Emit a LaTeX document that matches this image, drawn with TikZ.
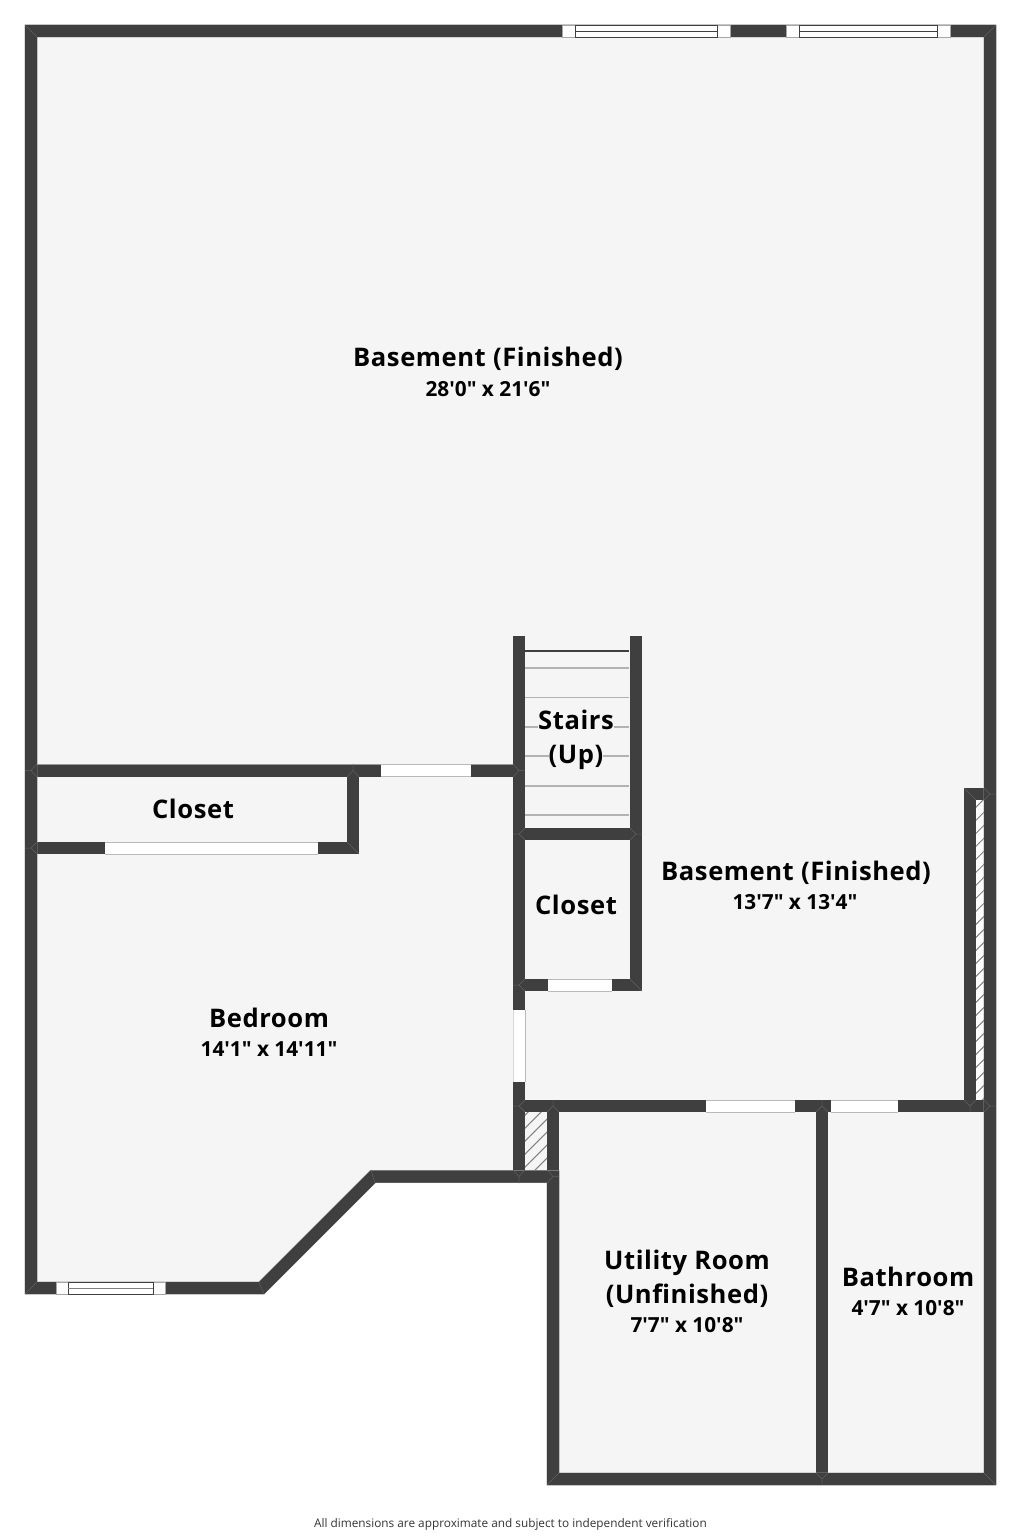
\documentclass[tikz,border=0pt]{standalone}
\usepackage{fontspec}
\usetikzlibrary{patterns.meta}
\newfontfamily\roomFont[LetterSpace=2.2]{Open Sans}
\newfontfamily\sizeFont{Open Sans}
\definecolor{wallColor}{HTML}{3F3F3F}
\definecolor{floorColor}{HTML}{F5F5F5}

\begin{document}
\begin{tikzpicture}[x = 1pt, y = -1pt]
	\tikzstyle{floorStyle}=[fill = floorColor]
	\tikzstyle{wallStyle}=[draw = wallColor, line width = 12pt, miter limit = 10, preaction = {draw = gray!80, line width = 12.8pt}]
	\tikzstyle{jointStyle}=[draw = gray!75!black, line width = 0.5pt]
	\tikzstyle{doorStyle}=[fill = white]
	\tikzstyle{doorEdgeStyle}=[draw = gray!55, line width = 1pt]
	\tikzstyle{paneStyle}=[fill = white, draw = black!75, line width = 1pt]
	\tikzstyle{sashStyle}=[fill = white, draw = gray!70, line width = 0.8pt]
	\tikzstyle{treadStyle}=[draw = gray!60, line width = 1.2pt]
	\tikzstyle{hatchStyle}=[pattern = {Lines[angle = 45, distance = 9.2pt, line width = 1pt]}, pattern color = gray]
	\tikzstyle{nameStyle}=[font = \roomFont\bfseries\fontsize{25.6}{25.6}\selectfont, inner sep = 0pt, text height = 18pt, text depth = 5pt]
	\tikzstyle{sizeStyle}=[font = \sizeFont\bfseries\fontsize{20.8}{20.8}\selectfont, inner sep = 0pt, text height = 15pt, text depth = 4pt]
	\useasboundingbox (0,0) rectangle (1021,1536);
	\fill[floorStyle] (25,25) -- (996,25) -- (996,1485) -- (547,1485) -- (547,1183) -- (375,1183) -- (264,1294) -- (25,1294) -- cycle;
	\fill[white] (976,800) rectangle (984,1100);
	\fill[hatchStyle] (976,800) rectangle (984,1100);
	\fill[hatchStyle] (525,1112) rectangle (547,1170);
	\draw[treadStyle] (525,668) -- (629,668);
	\draw[treadStyle] (525,697.5) -- (629,697.5);
	\draw[treadStyle] (525,727) -- (629,727);
	\draw[treadStyle] (525,756) -- (629,756);
	\draw[treadStyle] (525,786) -- (629,786);
	\draw[treadStyle] (525,815) -- (629,815);
	\draw[draw = wallColor, line width = 2pt] (525,651) -- (629,651);
	\draw[wallStyle] (31,770.5) -- (519,770.5);
	\draw[wallStyle] (31,848) -- (353,848) -- (353,770.5);
	\draw[wallStyle] (519,636) -- (519,1176.5);
	\draw[wallStyle] (636,636) -- (636,985) -- (519,985);
	\draw[wallStyle] (519,834) -- (636,834);
	\draw[wallStyle] (519,1106) -- (990,1106);
	\draw[wallStyle] (553,1106) -- (553,1176.5);
	\draw[wallStyle] (822,1106) -- (822,1479);
	\draw[wallStyle] (970,1106) -- (970,794) -- (990,794);
	\draw[wallStyle] (31,31) -- (990,31) -- (990,1479) -- (553,1479) -- (553,1176.5) -- (373,1176.5) -- (261.5,1288) -- (31,1288) -- cycle;
	\draw[jointStyle] (25,25) -- (37,37);
	\draw[jointStyle] (996,25) -- (984,37);
	\draw[jointStyle] (996,1485) -- (984,1473);
	\draw[jointStyle] (547,1485) -- (559,1473);
	\draw[jointStyle] (25,1294) -- (37,1282);
	\draw[jointStyle] (264,1294) -- (259,1282);
	\draw[jointStyle] (375,1183) -- (371,1170);
	\draw[jointStyle] (964,788) -- (976,800);
	\draw[jointStyle] (347,842) -- (359,854);
	\draw[jointStyle] (630,979) -- (642,991);
	\draw[jointStyle] (37,764) -- (31,770.5) -- (37,777) (25,770.5) -- (31,770.5);
	\draw[jointStyle] (37,842) -- (31,848) -- (37,854) (25,848) -- (31,848);
	\draw[jointStyle] (513,764) -- (519,770.5) -- (513,777) (519,770.5) -- (525,770.5);
	\draw[jointStyle] (525,828) -- (519,834) -- (525,840) (513,834) -- (519,834);
	\draw[jointStyle] (630,828) -- (636,834) -- (630,840) (636,834) -- (642,834);
	\draw[jointStyle] (525,979) -- (519,985) -- (525,991) (513,985) -- (519,985);
	\draw[jointStyle] (525,1100) -- (519,1106) -- (525,1112) (513,1106) -- (519,1106);
	\draw[jointStyle] (547,1112) -- (553,1106) -- (559,1112) (553,1100) -- (553,1106);
	\draw[jointStyle] (816,1112) -- (822,1106) -- (828,1112) (822,1100) -- (822,1106);
	\draw[jointStyle] (964,1100) -- (970,1106) -- (976,1100) (970,1106) -- (970,1112);
	\draw[jointStyle] (984,1100) -- (990,1106) -- (984,1112) (990,1106) -- (996,1106);
	\draw[jointStyle] (984,788) -- (990,794) -- (984,800) (990,794) -- (996,794);
	\draw[jointStyle] (347,777) -- (353,770.5) -- (359,777) (353,764) -- (353,770.5);
	\draw[jointStyle] (513,1170) -- (519,1176.5) -- (525,1170) (519,1176.5) -- (519,1183);
	\draw[jointStyle] (547,1170) -- (553,1176.5) -- (547,1183) (553,1176.5) -- (559,1176.5);
	\draw[jointStyle] (816,1473) -- (822,1479) -- (828,1473) (822,1479) -- (822,1485);
	\fill[doorStyle] (381,764.5) rectangle (471,776.5);
	\draw[doorEdgeStyle] (381,764.5) -- (471,764.5) (381,776.5) -- (471,776.5);
	\fill[doorStyle] (105,842) rectangle (318,854);
	\draw[doorEdgeStyle] (105,842) -- (318,842) (105,854) -- (318,854);
	\fill[doorStyle] (548,979) rectangle (612,991);
	\draw[doorEdgeStyle] (548,979) -- (612,979) (548,991) -- (612,991);
	\fill[doorStyle] (513,1010) rectangle (525,1082);
	\draw[doorEdgeStyle] (525,1010) -- (525,1082);
	\draw[draw = gray!30, line width = 0.8pt] (513,1010) -- (513,1082);
	\fill[doorStyle] (706,1100) rectangle (795,1112);
	\draw[doorEdgeStyle] (706,1100) -- (795,1100) (706,1112) -- (795,1112);
	\fill[doorStyle] (831,1100) rectangle (898,1112);
	\draw[doorEdgeStyle] (831,1100) -- (898,1100) (831,1112) -- (898,1112);
	\filldraw[sashStyle] (562,25.5) rectangle (730,37.5);
	\filldraw[paneStyle] (575,25.5) rectangle (717,37.5);
	\draw[draw = black!75, line width = 1pt] (575,31.5) -- (717,31.5);
	\filldraw[sashStyle] (786,25.5) rectangle (950,37.5);
	\filldraw[paneStyle] (799,25.5) rectangle (937,37.5);
	\draw[draw = black!75, line width = 1pt] (799,31.5) -- (937,31.5);
	\filldraw[sashStyle] (56,1282) rectangle (165,1294);
	\filldraw[paneStyle] (68,1282) rectangle (153,1294);
	\draw[draw = gray, line width = 1pt] (68,1288) -- (153,1288);
	\node[nameStyle] (mainName) at (488,360) {Basement (Finished)};
	\node[sizeStyle] (mainSize) at (488,390.5) {28'0" x 21'6"};
	\node[nameStyle, fill = floorColor] (stairsName) at (576,723) {Stairs};
	\node[nameStyle, fill = floorColor] (upName) at (576,757) {(Up)};
	\node[nameStyle] (closetA) at (193,812) {Closet};
	\node[nameStyle] (closetB) at (576,908) {Closet};
	\node[nameStyle] (lowerName) at (796,874) {Basement (Finished)};
	\node[sizeStyle] (lowerSize) at (795,903.5) {13'7" x 13'4"};
	\node[nameStyle] (bedroomName) at (269,1021) {Bedroom};
	\node[sizeStyle] (bedroomSize) at (269,1050.5) {14'1" x 14'11"};
	\node[nameStyle] (utilityName) at (687,1263) {Utility Room};
	\node[nameStyle] (unfinishedName) at (687,1297) {(Unfinished)};
	\node[sizeStyle] (utilitySize) at (687,1326.5) {7'7" x 10'8"};
	\node[nameStyle] (bathName) at (908,1280) {Bathroom};
	\node[sizeStyle] (bathSize) at (908,1309.5) {4'7" x 10'8"};
	\node[font = \sizeFont\fontsize{11.8}{11.8}\selectfont, text = black!80, inner sep = 0pt] (footNote) at (510.5,1524) {All dimensions are approximate and subject to independent verification};
\end{tikzpicture}
\end{document}
